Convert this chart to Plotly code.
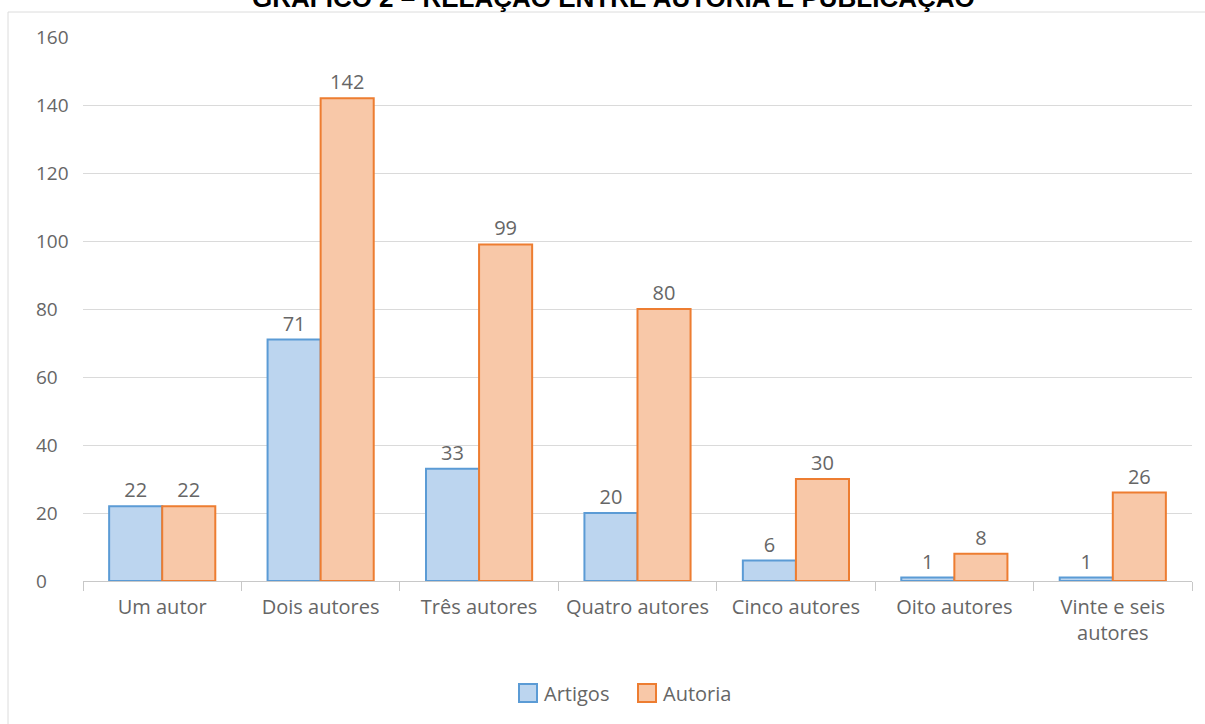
import plotly.graph_objects as go

categories = ["Um autor", "Dois autores", "Três autores", "Quatro autores",
              "Cinco autores", "Oito autores", "Vinte e seis<br>autores"]
artigos = [22, 71, 33, 20, 6, 1, 1]
autoria = [22, 142, 99, 80, 30, 8, 26]
y_ticks = [0, 20, 40, 60, 80, 100, 120, 140, 160]
series_names = ["Artigos", "Autoria"]
title_text = "GRÁFICO 2 – RELAÇÃO ENTRE AUTORIA E PUBLICAÇÃO"

FONT = "Open Sans, Noto Sans, sans-serif"
GRAY = "#666666"
FILLS = ["#bcd5ef", "#f8c8a8"]
EDGES = ["#5b9bd5", "#ed7d31"]

# plot-area geometry in pixels
L, R, T, B = 83, 13, 37, 143
W, H = 1205, 724
PW, PH = W - L - R, H - T - B


def px(xp):
    return (xp - L) / PW


def py(yp):
    return (H - B - yp) / PH


fig = go.Figure()
for name, vals, fc, ec in zip(series_names, [artigos, autoria], FILLS, EDGES):
    fig.add_trace(go.Bar(
        name=name, x=categories, y=vals,
        marker=dict(color=fc, line=dict(color=ec, width=2)),
        text=vals, textposition="outside", cliponaxis=False,
        textfont=dict(family=FONT, size=20, color=GRAY),
        showlegend=False,
    ))

fig.update_layout(
    width=W, height=H,
    margin=dict(l=L, r=R, t=T, b=B),
    paper_bgcolor="white", plot_bgcolor="white",
    barmode="group", bargap=0.33, bargroupgap=0,
    font=dict(family=FONT, size=20, color=GRAY),
    hovermode=False,
)
fig.update_xaxes(
    type="category", showgrid=False, showline=True, linecolor="#c8c8c8", linewidth=1,
    ticks="outside", tickson="boundaries", ticklen=9, tickcolor="#c8c8c8",
    tickfont=dict(family=FONT, size=20, color=GRAY), ticklabelstandoff=8,
    fixedrange=True,
)
fig.update_yaxes(
    range=[0, 160], tickvals=y_ticks, showgrid=True, gridcolor="#dadada", gridwidth=1,
    zeroline=False, showline=False, ticks="", showticklabels=False, fixedrange=True,
)

# y tick labels, left aligned as in the reference
for v in y_ticks:
    fig.add_annotation(text=str(v), xref="paper", yref="y", x=px(34), y=v,
                       xanchor="left", yanchor="middle", showarrow=False,
                       font=dict(family=FONT, size=19, color=GRAY))

# legend (custom, to match square swatches placed right next to text)
legend_items = [(519, 542), (638, 661)]
for (sx, tx), name, fc, ec in zip(legend_items, series_names, FILLS, EDGES):
    fig.add_shape(type="rect", xref="paper", yref="paper",
                  x0=px(sx), x1=px(sx + 18), y0=py(702), y1=py(684),
                  line=dict(color=ec, width=2), fillcolor=fc)
    fig.add_annotation(text=name, xref="paper", yref="paper", x=px(tx), y=py(693),
                       xanchor="left", yanchor="middle", showarrow=False,
                       font=dict(family=FONT, size=20, color=GRAY))

# chart-area border
fig.add_shape(type="rect", xref="paper", yref="paper",
              x0=px(8), x1=px(1230), y0=py(760), y1=py(12),
              line=dict(color="#dcdcdc", width=1), fillcolor="rgba(0,0,0,0)", layer="below")

fig.add_annotation(text=f"<b>{title_text}</b>", xref="paper", yref="paper",
                   x=px(613), y=py(15), xanchor="center", yanchor="bottom",
                   showarrow=False,
                   font=dict(family="Liberation Sans, Arial, sans-serif", size=26, color="black"))

fig.write_html("out.html")
